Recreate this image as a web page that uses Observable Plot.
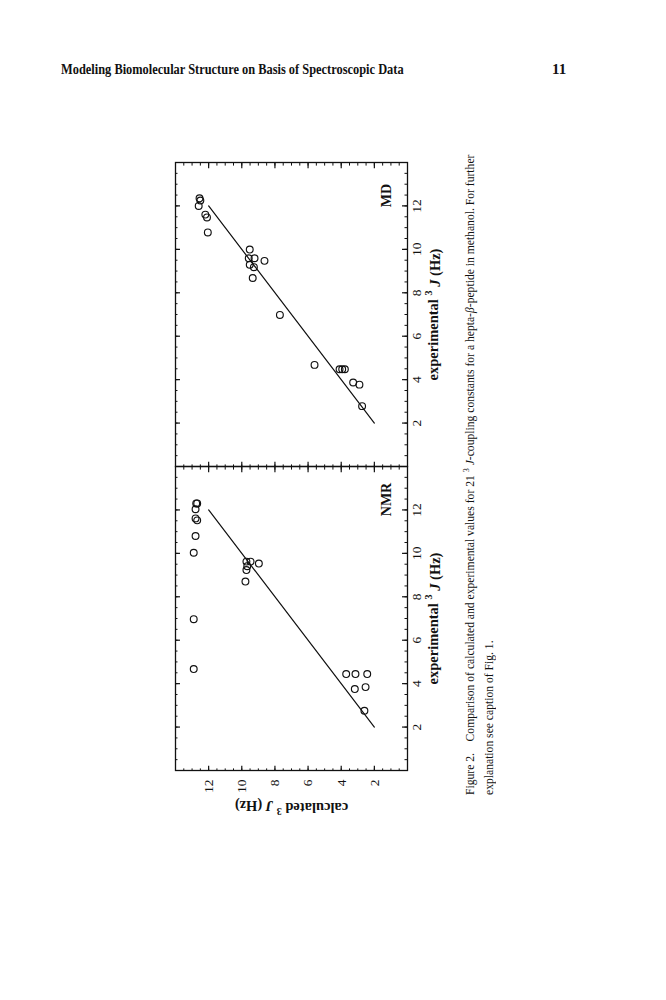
<!DOCTYPE html>
<html>
<head>
<meta charset="utf-8">
<script src="https://cdn.jsdelivr.net/npm/d3@7"></script>
<script src="https://cdn.jsdelivr.net/npm/@observablehq/plot@0.6"></script>
<style>
  html, body { margin: 0; padding: 0; background: #fff; }
  body { width: 666px; height: 1000px; position: relative; overflow: hidden; font-family: "Liberation Serif", serif; color: #111; }
  #header { position: absolute; left: 61px; top: 61px; font-weight: bold; font-size: 15px; white-space: nowrap; transform-origin: 0 50%; }
  #pagenum { position: absolute; left: 552px; top: 61px; font-weight: bold; font-size: 15px; }
  #fig { position: absolute; left: 150px; top: 830px; width: 700px; height: 360px; transform-origin: 0 0; transform: rotate(-90deg); }
  #plot { position: absolute; left: 0; top: 0; }
  #caption { position: absolute; left: 35px; top: 310px; font-size: 13px; line-height: 19px; white-space: nowrap; transform-origin: 0 0; }
  #caption sup { font-size: 0.7em; vertical-align: 0.55em; line-height: 0; }
</style>
</head>
<body>
<div id="header">Modeling Biomolecular Structure on Basis of Spectroscopic Data</div>
<div id="pagenum">11</div>
<div id="fig">
  <div id="plot"></div>
  <div id="caption">
    <div id="cap1">Figure 2.&nbsp;&nbsp;&nbsp; Comparison of calculated and experimental values for 21 <sup>3</sup> <i>J</i>-coupling constants for a hepta-<i>β</i>-peptide in methanol. For further</div>
    <div id="cap2">explanation see caption of Fig. 1.</div>
  </div>
</div>
<script>
// ---- data ----
const panels = ["NMR", "MD"];

const nmrExp  = [12.3, 12.3, 12.03, 11.61, 11.52, 10.8, 10.03, 9.62, 9.62, 9.53, 9.41, 9.23, 8.7, 6.97, 4.67, 4.44, 4.44, 4.44, 3.84, 3.75, 2.75];
const nmrCalc = [12.69, 12.75, 12.79, 12.79, 12.69, 12.79, 12.9, 9.72, 9.47, 8.97, 9.67, 9.72, 9.78, 12.9, 12.9, 3.70, 3.14, 2.43, 2.53, 3.18, 2.6];

const mdExp  = [12.35, 12.25, 12.0, 11.6, 11.47, 10.78, 9.99, 9.59, 9.59, 9.29, 9.18, 9.47, 8.68, 6.98, 4.68, 4.48, 4.48, 4.48, 3.87, 3.77, 2.78];
const mdCalc = [12.55, 12.5, 12.6, 12.2, 12.1, 12.05, 9.52, 9.58, 9.23, 9.52, 9.27, 8.63, 9.34, 7.7, 5.61, 4.1, 3.94, 3.78, 3.28, 2.9, 2.74];

const fitLine = [2, 12];              // identity line, calculated = experimental
const axisTicks = [2, 4, 6, 8, 10, 12];
const minorTicks = d3.range(0.5, 14, 0.5);
const axisDomain = [0, 14];
const axisLabelX = "experimental ³J (Hz)";
const axisLabelY = "calculated ³J (Hz)";

// ---- tables ----
const points = [
  ...nmrExp.map((v, i) => ({panel: "NMR", exp: v, calc: nmrCalc[i]})),
  ...mdExp.map((v, i) => ({panel: "MD", exp: v, calc: mdCalc[i]}))
];
const lineRows = panels.flatMap(p => fitLine.map(v => ({panel: p, v})));

const ink = "#111";
const minX = 0.12, majX = 0.24, minY = 0.15, majY = 0.3;

const chart = Plot.plot({
  width: 680,
  height: 300,
  marginLeft: 58,
  marginRight: 13,
  marginTop: 25,
  marginBottom: 43,
  style: {fontFamily: "Liberation Serif", fontSize: "13.5px", color: ink, background: "transparent"},
  fx: {domain: panels, padding: 0, axis: null},
  x: {domain: axisDomain, ticks: axisTicks, tickSize: 0, tickPadding: 4, label: null},
  y: {domain: axisDomain, ticks: axisTicks, tickSize: 0, tickPadding: 9, label: null},
  marks: [
    // minor ticks
    Plot.ruleX(minorTicks, {x: d => d, y1: axisDomain[0], y2: axisDomain[0] + minY, stroke: ink}),
    Plot.ruleX(minorTicks, {x: d => d, y1: axisDomain[1], y2: axisDomain[1] - minY, stroke: ink}),
    Plot.ruleY(minorTicks, {y: d => d, x1: axisDomain[0], x2: axisDomain[0] + minX, stroke: ink}),
    Plot.ruleY(minorTicks, {y: d => d, x1: axisDomain[1], x2: axisDomain[1] - minX, stroke: ink}),
    // major ticks
    Plot.ruleX(axisTicks, {x: d => d, y1: axisDomain[0], y2: axisDomain[0] + majY, stroke: ink, strokeWidth: 1.2}),
    Plot.ruleX(axisTicks, {x: d => d, y1: axisDomain[1], y2: axisDomain[1] - majY, stroke: ink, strokeWidth: 1.2}),
    Plot.ruleY(axisTicks, {y: d => d, x1: axisDomain[0], x2: axisDomain[0] + majX, stroke: ink, strokeWidth: 1.2}),
    Plot.ruleY(axisTicks, {y: d => d, x1: axisDomain[1], x2: axisDomain[1] - majX, stroke: ink, strokeWidth: 1.2}),
    Plot.frame({stroke: ink, strokeWidth: 1.3}),
    Plot.line(lineRows, {fx: "panel", x: "v", y: "v", stroke: ink, strokeWidth: 1.2}),
    Plot.dot(points, {fx: "panel", x: "exp", y: "calc", r: 3.4, stroke: ink, strokeWidth: 1.15, fill: "none"}),
    Plot.text(panels, {fx: d => d, text: d => d, frameAnchor: "bottom-right", textAnchor: "middle", dx: -33, dy: -17, fontWeight: "bold", fontSize: 14, fill: ink}),
    Plot.text(panels, {fx: d => d, text: () => axisLabelX, frameAnchor: "bottom", dy: 30, fontWeight: "bold", fontSize: 14.5, fill: ink}),
    Plot.text([panels[0]], {fx: d => d, text: () => axisLabelY, frameAnchor: "left", textAnchor: "middle", dx: -37, rotate: -90, fontWeight: "bold", fontSize: 14.5, fill: ink})
  ]
});

// superscript 3 and italic J in axis labels
d3.select(chart).selectAll("text").each(function () {
  const t = this.textContent;
  if (t.includes("³J")) {
    const [a, b] = t.split("³J");
    const s = d3.select(this);
    s.text(null);
    s.append("tspan").text(a);
    s.append("tspan").attr("font-size", "0.7em").attr("dy", "-0.5em").text("3");
    s.append("tspan").attr("font-style", "italic").attr("dy", "0.5em").text(" J");
    s.append("tspan").text(b);
  }
});

document.getElementById("plot").appendChild(chart);

// fit text widths to the printed page
function fitWidth(el, target) {
  const w = el.scrollWidth;
  if (w > 0) el.style.transform = `scaleX(${target / w})`;
}
fitWidth(document.getElementById("header"), 343);
const cap = document.getElementById("caption");
const c1 = document.getElementById("cap1");
const k = 640 / c1.scrollWidth;
cap.style.transform = `scaleX(${k})`;
</script>
</body>
</html>
